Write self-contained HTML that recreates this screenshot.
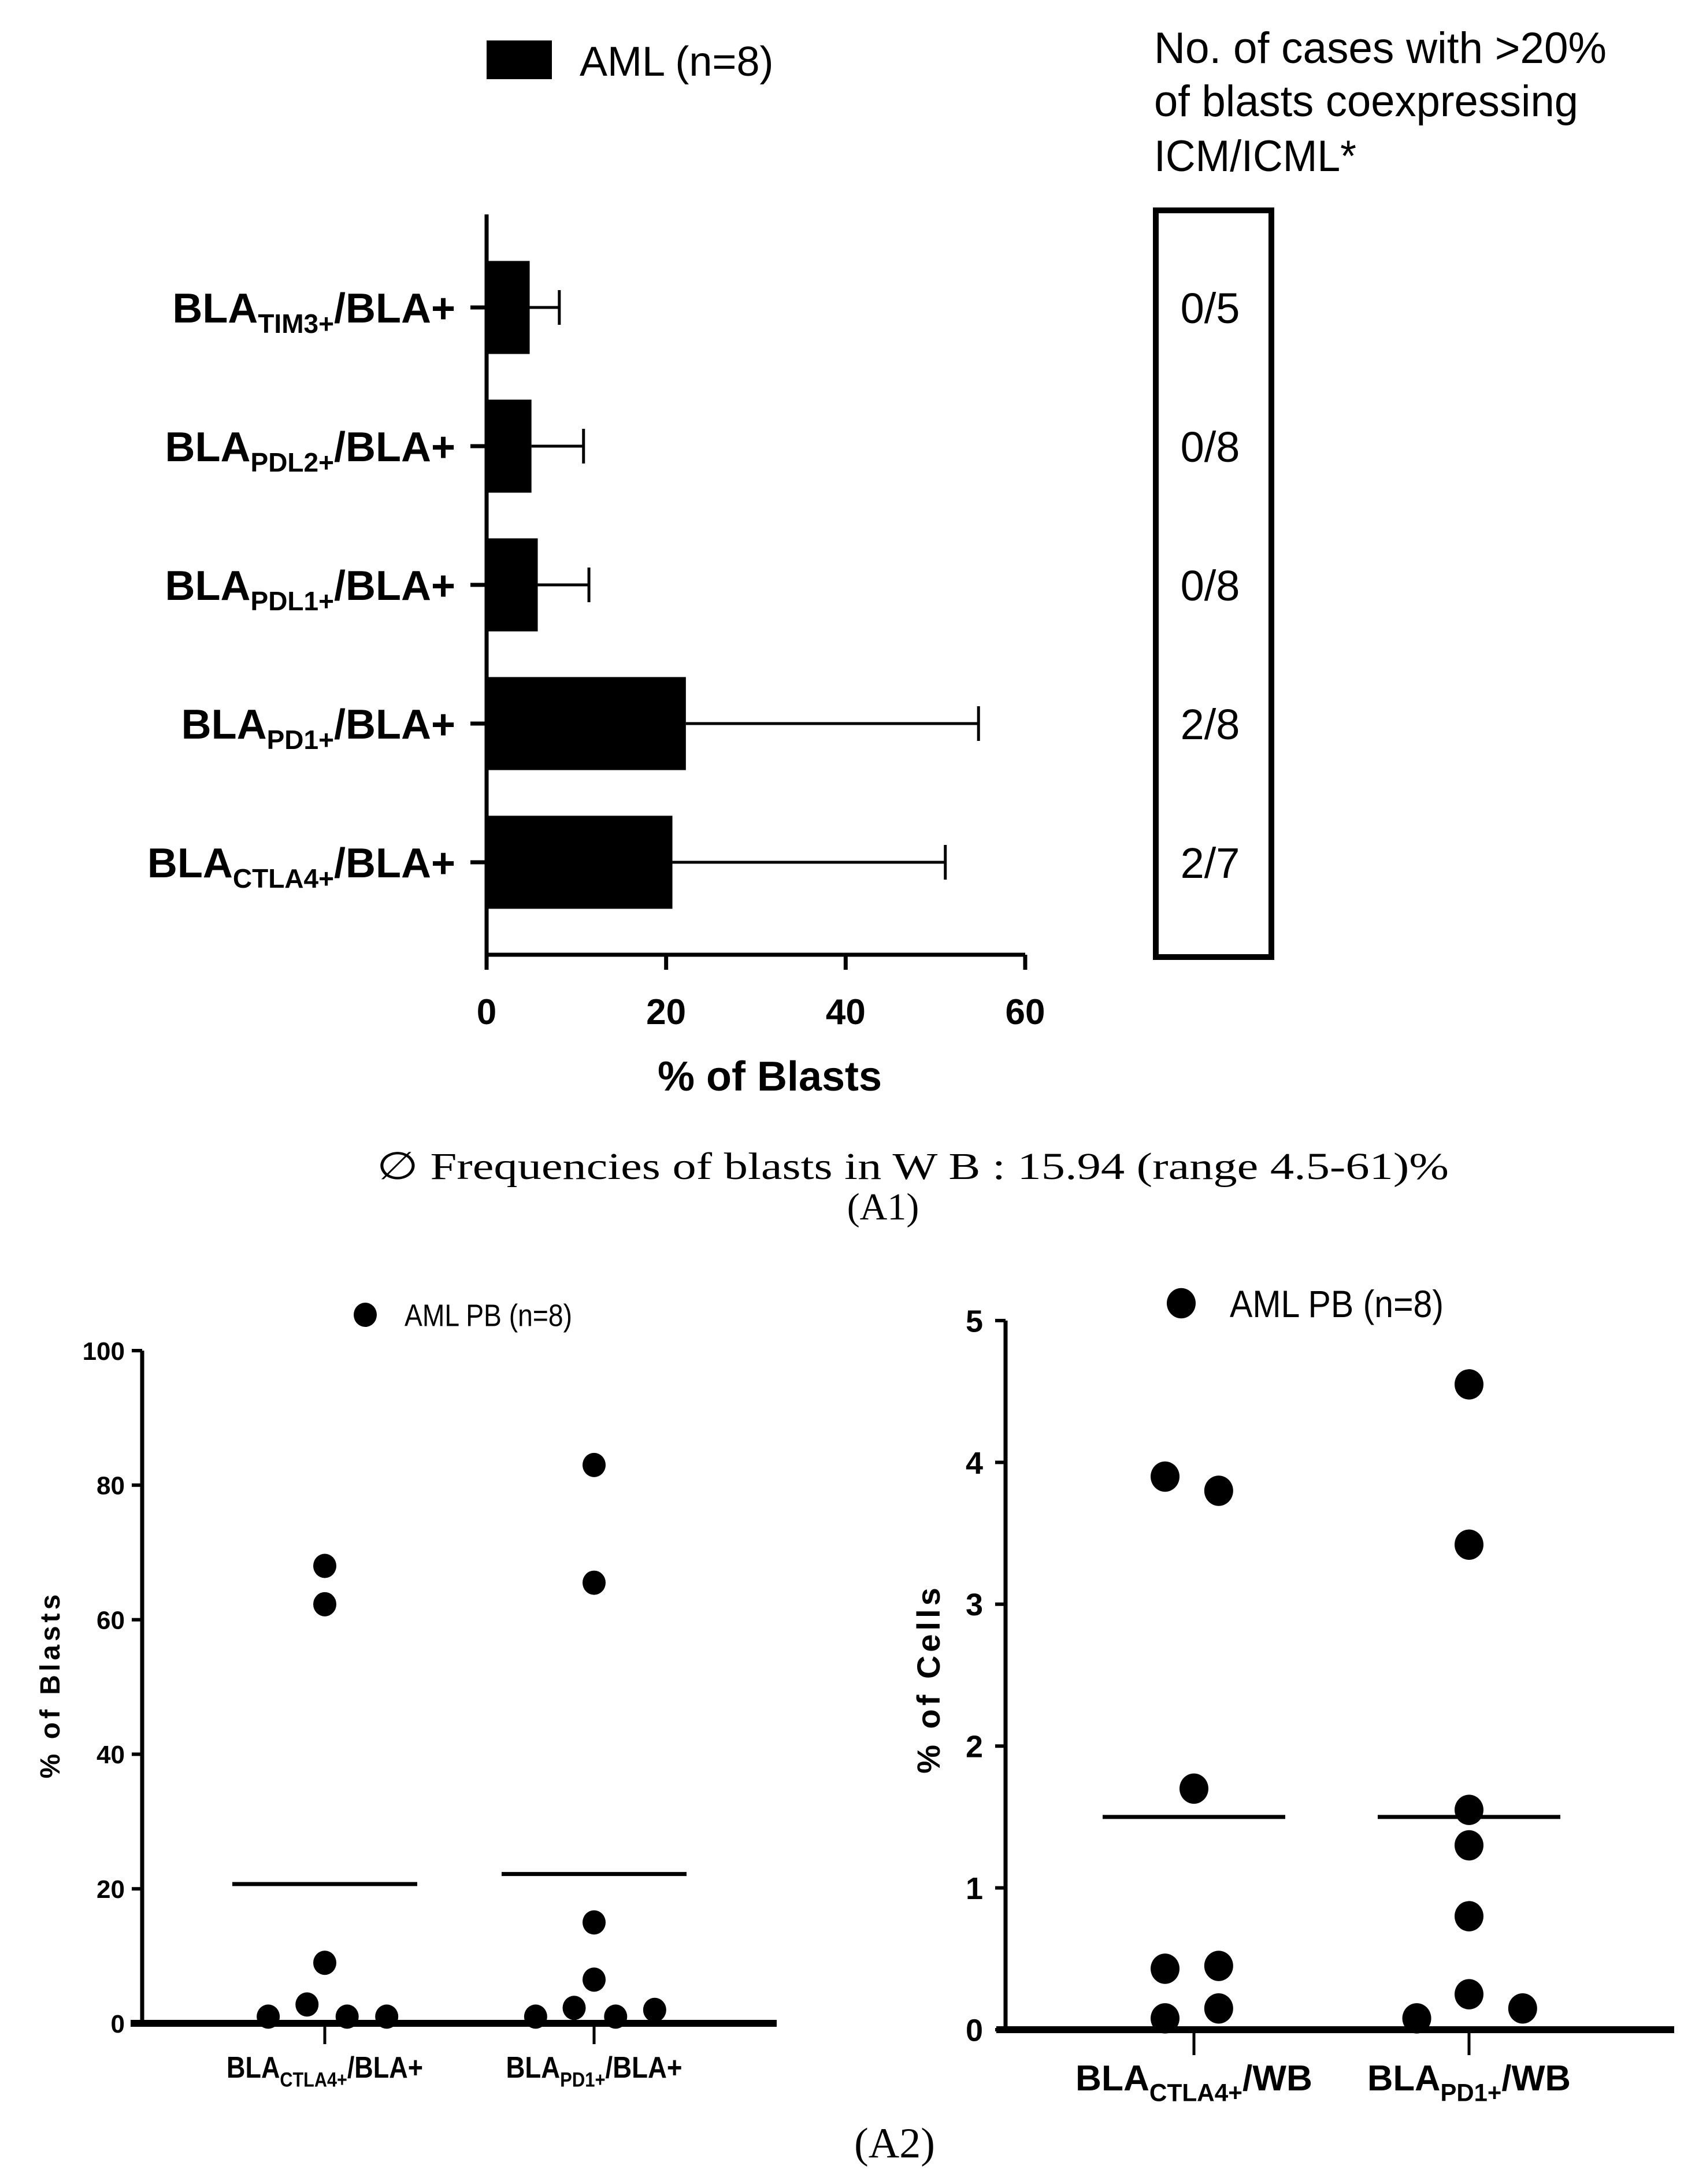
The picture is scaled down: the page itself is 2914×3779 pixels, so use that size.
<!DOCTYPE html>
<html><head><meta charset="utf-8"><style>html,body{margin:0;padding:0;background:#fff}svg{display:block}</style></head>
<body>
<svg id="fig" xmlns="http://www.w3.org/2000/svg" width="2914" height="3779" viewBox="0 0 2914 3779" font-family="Liberation Sans, Arial, sans-serif">
<rect width="2914" height="3779" fill="#fff"/>
<g id="topchart"></g>
<g id="bl"></g>
<g id="br"></g>
</svg>
<script>
// ---- A1 data ----
const barCats = ["TIM3+","PDL2+","PDL1+","PD1+","CTLA4+"];
const barMeans = [4.8, 5.0, 5.7, 22.2, 20.7];
const barErrs = [8.1, 10.8, 11.4, 54.8, 51.1];
const ratios = ["0/5","0/8","0/8","2/8","2/7"];
const xTicks = [0, 20, 40, 60];
// ---- A2 left data ----
const leftCats = ["CTLA4+","PD1+"];
const leftVals = [[1.0, 2.8, 68, 62.3, 9, 1.0, 1.0],[1.0, 2.3, 83, 65.5, 15, 6.5, 1.0, 2.0]];
const leftJit = [[-0.21, -0.066, 0, 0, 0, 0.083, 0.23],[-0.217, -0.074, 0, 0, 0, 0, 0.08, 0.225]];
const leftMeans = [20.7, 22.2];
const leftTicks = [0, 20, 40, 60, 80, 100];
// ---- A2 right data ----
const rightCats = ["CTLA4+","PD1+"];
const rightVals = [[3.9, 3.8, 1.7, 0.43, 0.45, 0.08, 0.15],[0.08, 4.55, 3.42, 1.55, 1.3, 0.8, 0.25, 0.15]];
const rightJit = [[-0.105, 0.09, 0.0, -0.105, 0.09, -0.105, 0.09],[-0.19, 0, 0, 0, 0, 0, 0, 0.195]];
const rightMeans = [1.5, 1.5];
const rightTicks = [0, 1, 2, 3, 4, 5];

const NS = "http://www.w3.org/2000/svg";
function mk(parent, tag, attrs, text) {
  const el = document.createElementNS(NS, tag);
  for (const k in attrs) el.setAttribute(k, attrs[k]);
  if (text !== undefined) el.textContent = text;
  parent.appendChild(el);
  return el;
}
function sub(t, big, small, subTxt, rest, dy) {
  mk(t, "tspan", {}, big);
  mk(t, "tspan", {"font-size": small, dy: dy}, subTxt);
  mk(t, "tspan", {dy: -dy}, rest);
}

// ================= A1 =================
const topG = document.getElementById("topchart");
const ax0 = 842, ax60 = 1774, axTop = 371, axBot = 1652;
const xs = v => ax0 + (v - 0) * (ax60 - ax0) / 60;
const rowY = i => 532 + i * 240;
const barH = 161;
let e = mk(topG, "rect", {x: 842, y: 70, width: 113, height: 67, fill: "#000"});


e = mk(topG, "text", {x: 1003, y: 131, "font-size": 72}, "AML (n=8)");


barCats.forEach((c, i) => {
  const cy = rowY(i);
  let b = mk(topG, "rect", {x: xs(0), y: cy - barH / 2, width: xs(barMeans[i]) - xs(0), height: barH, fill: "#000"});
  
  
  let er = mk(topG, "path", {d: `M${xs(barMeans[i])} ${cy}H${xs(barErrs[i])}M${xs(barErrs[i])} ${cy - 30}V${cy + 30}`, stroke: "#000", "stroke-width": 5, fill: "none"});
  
  
  mk(topG, "line", {x1: 814, x2: 842, y1: cy, y2: cy, stroke: "#000", "stroke-width": 7});
  let t = mk(topG, "text", {x: 788, y: cy + 26, "font-size": 72, "font-weight": "bold", "text-anchor": "end"});
  sub(t, "BLA", 46, c, "/BLA+", 18);
  
  
  let r = mk(topG, "text", {x: 2094, y: cy + 27, "font-size": 74, "text-anchor": "middle"}, ratios[i]);
  
  
});
mk(topG, "path", {d: `M${ax0} ${axTop}V${axBot}H${ax60}`, stroke: "#000", "stroke-width": 7, fill: "none"});
xTicks.forEach(v => {
  mk(topG, "line", {x1: xs(v), x2: xs(v), y1: axBot, y2: axBot + 26, stroke: "#000", "stroke-width": 7});
  let t = mk(topG, "text", {x: xs(v), y: 1772, "font-size": 62, "font-weight": "bold", "text-anchor": "middle"}, v);
  
  
});
e = mk(topG, "text", {x: 1332, y: 1887, "font-size": 72, "font-weight": "bold", "text-anchor": "middle"}, "% of Blasts");


e = mk(topG, "rect", {x: 2000, y: 364, width: 200, height: 1292, fill: "none", stroke: "#000", "stroke-width": 10});


[["No. of cases with >20%", 109, 783], ["of blasts coexpressing", 201, 734], ["ICM/ICML*", 296, 350]].forEach((l, i) => {
  let t = mk(topG, "text", {x: 1997, y: l[1], "font-size": 76, textLength: l[2], lengthAdjust: "spacingAndGlyphs"}, l[0]);
  
  
});
e = mk(topG, "text", {x: 652, y: 2040, "font-size": 66, "font-family": "Liberation Serif, serif", textLength: 1855, lengthAdjust: "spacingAndGlyphs"}, "\u2205 Frequencies of blasts in W B : 15.94 (range 4.5-61)%");


e = mk(topG, "text", {x: 1528, y: 2110, "font-size": 66, "font-family": "Liberation Serif, serif", "text-anchor": "middle"}, "(A1)");



// ================= A2 scatter =================
function scatter(g, o) {
  const ys = v => o.y0 + (v - o.vmin) * (o.y1 - o.y0) / (o.vmax - o.vmin);
  const cx = i => o.c0 + i * o.cs;
  mk(g, "path", {d: `M${o.ax} ${ys(o.vmax)}V${o.y0}`, stroke: "#000", "stroke-width": o.aw, fill: "none"});
  mk(g, "line", {x1: o.xa0, x2: o.xa1, y1: o.y0, y2: o.y0, stroke: "#000", "stroke-width": o.xw});
  o.ticks.forEach(v => {
    mk(g, "line", {x1: o.ax - 18, x2: o.ax, y1: ys(v), y2: ys(v), stroke: "#000", "stroke-width": 6});
    let t = mk(g, "text", {x: o.tlx, y: ys(v) + o.tfs * 0.36, "font-size": o.tfs, "font-weight": "bold", "text-anchor": "end"}, v);
    
    
  });
  o.cats.forEach((c, i) => {
    mk(g, "line", {x1: cx(i), x2: cx(i), y1: o.y0, y2: o.y0 + o.tk, stroke: "#000", "stroke-width": 5});
    let t = mk(g, "text", {x: cx(i), y: o.lby, "font-size": o.lfs, "font-weight": "bold", "text-anchor": "middle", textLength: o.lw[i], lengthAdjust: "spacingAndGlyphs"});
    sub(t, "BLA", o.lfs * 0.68, c, o.suffix, o.lfs * 0.3);
    
    
    o.vals[i].forEach((v, j) => {
      let d = mk(g, "ellipse", {cx: cx(i) + o.jit[i][j] * o.cs, cy: ys(v), rx: o.r, ry: o.r * 1.05, fill: "#000"});
      
      
    });
    let m = mk(g, "line", {x1: cx(i) - o.mw, x2: cx(i) + o.mw, y1: ys(o.means[i]), y2: ys(o.means[i]), stroke: "#000", "stroke-width": 7});
    
    
  });
  let t = mk(g, "text", {x: 0, y: 0, "font-size": o.yfs, "font-weight": "bold", "letter-spacing": 6, "text-anchor": "middle", transform: `translate(${o.ytx} ${o.yty}) rotate(-90)`}, o.ytitle);
  
  
  let ld = mk(g, "ellipse", {cx: o.ldx, cy: o.ldy, rx: o.r, ry: o.r * 1.05, fill: "#000"});
  
  
  let lt = mk(g, "text", {x: o.ltx, y: o.ldy + o.lgfs * 0.36, "font-size": o.lgfs, textLength: o.lgw, lengthAdjust: "spacingAndGlyphs"}, "AML PB (n=8)");
  
  
}
scatter(document.getElementById("bl"), {
  vmin: 0, vmax: 100, y0: 3501, y1: 2337, ax: 246, aw: 7, xa0: 226, xa1: 1344, xw: 12,
  ticks: leftTicks, tlx: 216, tfs: 44, c0: 562, cs: 466, cats: leftCats, vals: leftVals, jit: leftJit,
  means: leftMeans, mw: 160, r: 20, tk: 36, lby: 3595, lfs: 52, lw: [340, 305], suffix: "/BLA+",
  ytitle: "% of Blasts", ytx: 103, yty: 2915, yfs: 48, ldx: 632, ldy: 2275, ltx: 700, lgfs: 54, lgw: 290
});
scatter(document.getElementById("br"), {
  vmin: 0, vmax: 5, y0: 3512, y1: 2285, ax: 1740, aw: 7, xa0: 1724, xa1: 2897, xw: 12,
  ticks: rightTicks, tlx: 1701, tfs: 54, c0: 2066, cs: 476, cats: rightCats, vals: rightVals, jit: rightJit,
  means: rightMeans, mw: 158, r: 25, tk: 44, lby: 3617, lfs: 62, lw: [410, 352], suffix: "/WB",
  ytitle: "% of Cells", ytx: 1626, yty: 2905, yfs: 56, ldx: 2044, ldy: 2255, ltx: 2128, lgfs: 66, lgw: 370
});
e = mk(document.getElementById("fig"), "text", {x: 1548, y: 3733, "font-size": 74, "font-family": "Liberation Serif, serif", "text-anchor": "middle"}, "(A2)");


</script>
</body></html>
